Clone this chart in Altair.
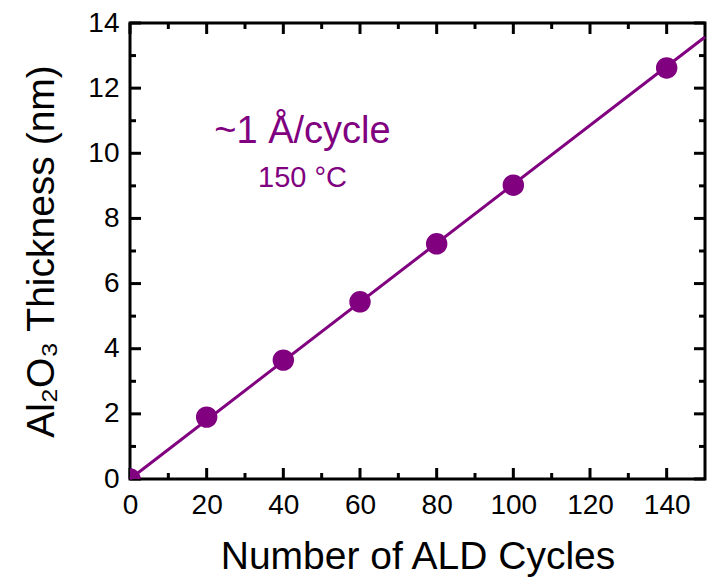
import altair as alt
import pandas as pd

# ---- data ----
cycles = [0, 20, 40, 60, 80, 100, 140]
thickness = [0.0, 1.90, 3.65, 5.44, 7.22, 9.02, 12.62]

fit_x = [0, 150]
fit_y = [0.0, 13.57]

ann_text = ["~1 Å/cycle", "150 °C"]
ann_x = [45, 45]
ann_y = [10.32, 8.97]
ann_size = [38, 29]

x_major = [0, 20, 40, 60, 80, 100, 120, 140]
x_minor = [10, 30, 50, 70, 90, 110, 130]
y_major = [0, 2, 4, 6, 8, 10, 12, 14]
y_minor = [1, 3, 5, 7, 9, 11, 13]

W, H = 575, 456
PURPLE = "#800080"
FONT = "Liberation Sans"

xs = alt.Scale(domain=[0, 150], nice=False, zero=False)
ys = alt.Scale(domain=[0, 14], nice=False, zero=False)
xaxis = alt.Axis(title="Number of ALD Cycles", values=x_major, labelPadding=12,
                 titlePadding=18)
yaxis = alt.Axis(title="Al₂O₃ Thickness (nm)", values=y_major, labelPadding=11,
                 titlePadding=26)

pts = pd.DataFrame({"x": cycles, "y": thickness})
fit = pd.DataFrame({"x": fit_x, "y": fit_y})
ann = pd.DataFrame({"x": ann_x, "y": ann_y, "t": ann_text, "s": ann_size})

# tick lengths in data units (major ~11 px, minor ~6 px)
XMAJ, XMIN = 150 * 11 / W, 150 * 6 / W
YMAJ, YMIN = 14 * 11 / H, 14 * 6 / H


def xrules(vals, y0, y1):
    df = pd.DataFrame({"xt": vals})
    return alt.Chart(df).mark_rule(color="black", strokeWidth=3).encode(
        x=alt.X("xt:Q", scale=xs, axis=xaxis),
        y=alt.datum(y0, scale=ys), y2=alt.datum(y1))


def yrules(vals, x0, x1):
    df = pd.DataFrame({"yt": vals})
    return alt.Chart(df).mark_rule(color="black", strokeWidth=3).encode(
        y=alt.Y("yt:Q", scale=ys, axis=yaxis),
        x=alt.datum(x0, scale=xs), x2=alt.datum(x1))


line = alt.Chart(fit).mark_line(color=PURPLE, strokeWidth=3).encode(
    x=alt.X("x:Q", scale=xs, axis=xaxis),
    y=alt.Y("y:Q", scale=ys, axis=yaxis),
)
points = alt.Chart(pts).mark_circle(color=PURPLE, opacity=1, size=460, clip=True).encode(
    x=alt.X("x:Q", scale=xs, axis=xaxis),
    y=alt.Y("y:Q", scale=ys, axis=yaxis),
)
texts = alt.Chart(ann).mark_text(
    color=PURPLE, font=FONT, align="center", baseline="alphabetic").encode(
    x=alt.X("x:Q", scale=xs, axis=xaxis),
    y=alt.Y("y:Q", scale=ys, axis=yaxis),
    size=alt.Size("s:Q", scale=None, legend=None),
    text="t:N",
)

layers = [
    xrules(x_major, 0, YMAJ),
    xrules(x_major, 14, 14 - YMAJ),
    xrules(x_minor, 0, YMIN),
    xrules(x_minor, 14, 14 - YMIN),
    yrules(y_major, 0, XMAJ),
    yrules(y_major, 150, 150 - XMAJ),
    yrules(y_minor, 0, XMIN),
    yrules(y_minor, 150, 150 - XMIN),
    line, points, texts,
]

chart = alt.layer(*layers).properties(
    width=W, height=H,
    autosize=alt.AutoSizeParams(type="none"),
    padding={"left": 130, "top": 23, "right": 3, "bottom": 100},
    background="white",
).configure_view(
    stroke="black", strokeWidth=3
).configure_axis(
    ticks=False, domain=False, grid=False, labelFlush=False,
    labelFontSize=28, titleFontSize=39, titleFontWeight="normal",
    labelColor="black", titleColor="black", labelFont=FONT, titleFont=FONT,
)

chart.save("out.html", embed_options={"renderer": "svg", "actions": False})
